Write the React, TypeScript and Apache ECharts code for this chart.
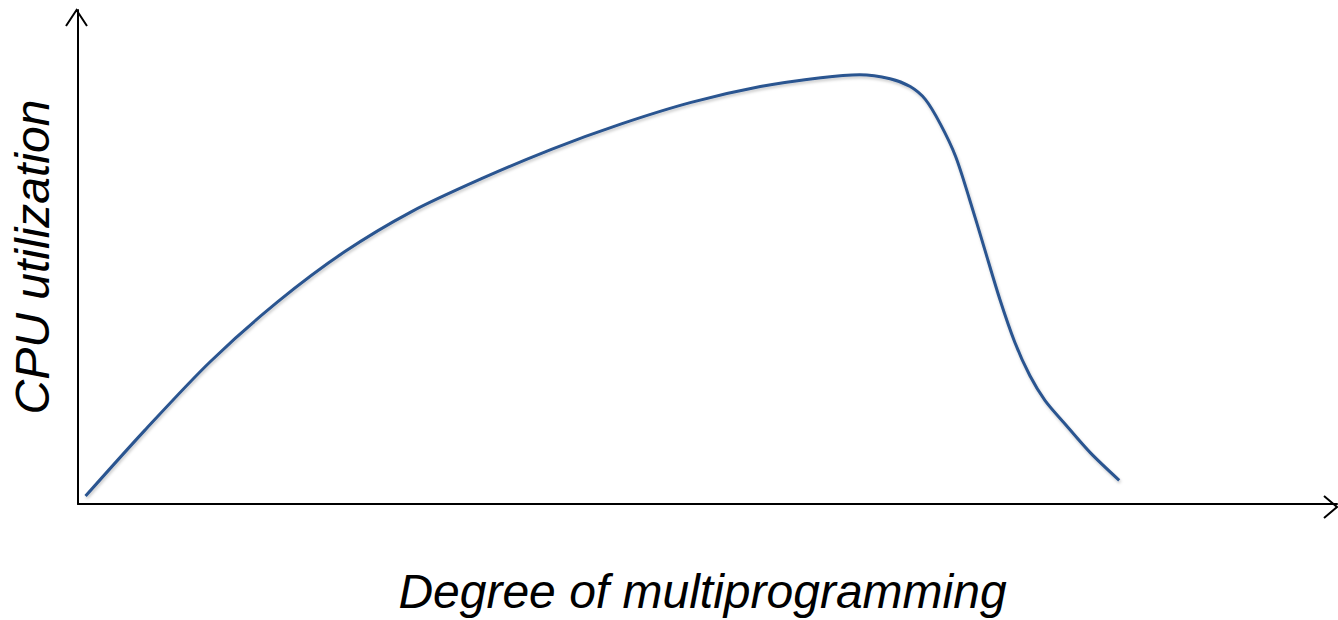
import React, { useEffect, useRef } from "react";
import * as echarts from "echarts";

// Degree of multiprogramming (arbitrary units, 0-100 along the x axis)
const degree: number[] = [
  0.6, 5.3, 10.5, 15.9, 21.2, 26.5, 32.0, 37.6, 43.1, 48.7, 54.2, 59.0, 62.1,
  64.5, 66.1, 67.3, 68.5, 69.7, 70.8, 72.0, 73.2, 74.4, 75.6, 76.8, 78.4, 80.4,
  82.7,
];
// CPU utilization (arbitrary units, 0-100 along the y axis)
const utilization: number[] = [
  1.6, 14.9, 28.8, 41.0, 51.1, 59.2, 65.8, 71.8, 76.9, 81.3, 84.5, 86.3, 86.9,
  86.1, 84.5, 81.9, 76.9, 70.4, 61.8, 51.7, 41.6, 32.8, 26.0, 21.0, 16.2, 10.4,
  4.8,
];

const xTitle = "Degree of multiprogramming";
const yTitle = "CPU utilization";

export default function App() {
  const ref = useRef<HTMLDivElement>(null);
  useEffect(() => {
    if (!ref.current) return;
    const chart = echarts.init(ref.current, undefined, { renderer: "svg" });
    const axisLine = {
      show: true,
      lineStyle: { color: "#000", width: 2 },
    };
    const nameStyle = {
      fontFamily: "Liberation Sans, Arial, sans-serif",
      fontStyle: "italic" as const,
      fontSize: 48,
      color: "#000",
    };
    chart.setOption({
      animation: false,
      backgroundColor: "#fff",
      grid: { left: 76, right: 1, top: 10, bottom: 113, containLabel: false },
      xAxis: {
        type: "value",
        min: 0,
        max: 100,
        name: xTitle,
        nameLocation: "middle",
        nameGap: 63,
        nameTextStyle: { ...nameStyle, padding: [0, 10, 0, 0] },
        axisLine,
        axisTick: { show: false },
        axisLabel: { show: false },
        splitLine: { show: false },
      },
      yAxis: {
        type: "value",
        min: 0,
        max: 100,
        name: yTitle,
        nameLocation: "middle",
        nameGap: 22,
        nameRotate: 90,
        nameTextStyle: nameStyle,
        axisLine,
        axisTick: { show: false },
        axisLabel: { show: false },
        splitLine: { show: false },
      },
      series: [
        {
          type: "line",
          data: degree.map((d, i) => [d, utilization[i]]),
          smooth: 0.3,
          showSymbol: false,
          symbol: "none",
          lineStyle: {
            color: "#2a5490",
            width: 3,
            shadowColor: "rgba(0,0,0,0.22)",
            shadowBlur: 3,
            shadowOffsetX: 1,
            shadowOffsetY: 2,
          },
        },
      ],
      graphic: [
        {
          type: "polyline",
          shape: { points: [[66, 26], [76.5, 10], [87, 26]] },
          style: { stroke: "#000", lineWidth: 2, fill: "none" },
        },
        {
          type: "polyline",
          shape: { points: [[1324, 496], [1337, 507], [1324, 518]] },
          style: { stroke: "#000", lineWidth: 2, fill: "none" },
        },
      ],
    });
    return () => chart.dispose();
  }, []);
  return (
    <div
      ref={ref}
      style={{ position: "fixed", left: 0, top: 0, width: 1338, height: 620 }}
    />
  );
}
